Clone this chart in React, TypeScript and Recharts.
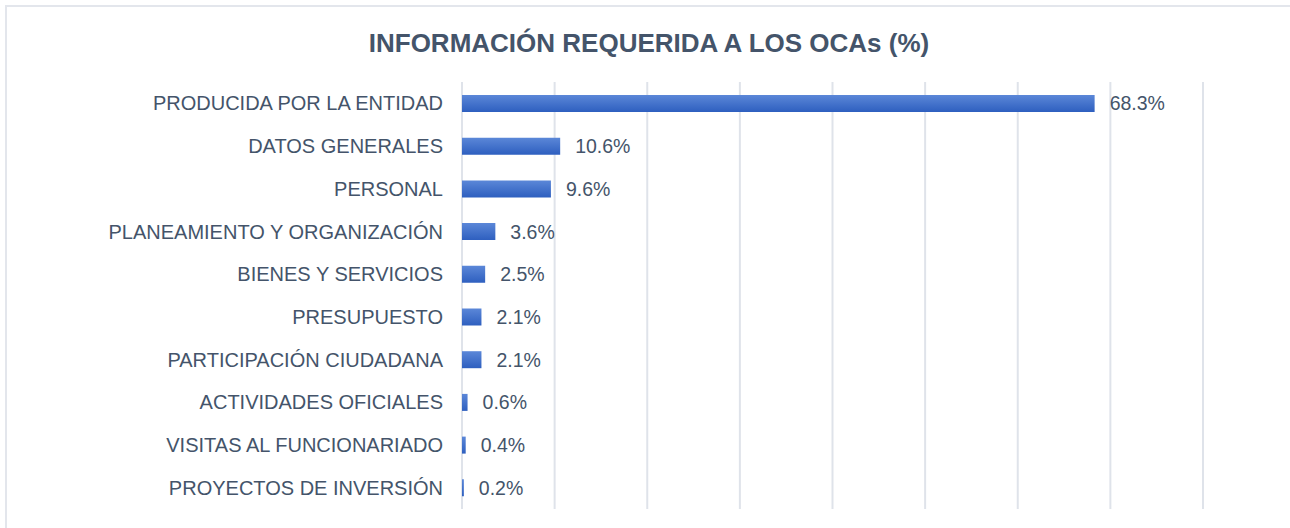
import { BarChart, Bar, XAxis, YAxis, CartesianGrid, LabelList } from 'recharts'

const categories = [
  'PRODUCIDA POR LA ENTIDAD',
  'DATOS GENERALES',
  'PERSONAL',
  'PLANEAMIENTO Y ORGANIZACIÓN',
  'BIENES Y SERVICIOS',
  'PRESUPUESTO',
  'PARTICIPACIÓN CIUDADANA',
  'ACTIVIDADES OFICIALES',
  'VISITAS AL FUNCIONARIADO',
  'PROYECTOS DE INVERSIÓN',
]

const values = [68.3, 10.6, 9.6, 3.6, 2.5, 2.1, 2.1, 0.6, 0.4, 0.2]

const xTicks = [0, 10, 20, 30, 40, 50, 60, 70, 80]

const title = 'INFORMACIÓN REQUERIDA A LOS OCAs (%)'

const font = '"Liberation Sans", Arial, sans-serif'

export default function App() {
  const data = categories.map((name, i) => ({ name, value: values[i] }))

  return (
    <div style={{ position: 'absolute', left: 0, top: 0, width: 1290, height: 528, background: '#fff', overflow: 'hidden', fontFamily: font }}>
      <div
        style={{
          position: 'absolute',
          left: 5,
          top: 5,
          width: 1300,
          height: 540,
          borderLeft: '2px solid #e3e6ec',
          borderTop: '2px solid #e3e6ec',
        }}
      />
      <div
        style={{
          position: 'absolute',
          left: 0,
          top: 28,
          width: 1298,
          textAlign: 'center',
          fontSize: 26,
          lineHeight: '30px',
          fontWeight: 'bold',
          color: '#44546a',
        }}
      >
        {title}
      </div>
      <div style={{ position: 'absolute', left: 0, top: 0 }}>
        <BarChart
          width={1290}
          height={528}
          data={data}
          layout="vertical"
          margin={{ top: 82, right: 87, bottom: 19, left: 0 }}
        >
          <defs>
            <linearGradient id="barFill" x1="0" y1="0" x2="0" y2="1">
              <stop offset="0%" stopColor="#5b87d8" />
              <stop offset="100%" stopColor="#2e5fbf" />
            </linearGradient>
          </defs>
          <CartesianGrid horizontal={false} stroke="#dfe3ea" strokeWidth={2} />
          <XAxis type="number" domain={[0, 80]} ticks={xTicks} hide />
          <YAxis
            type="category"
            dataKey="name"
            width={462}
            axisLine={false}
            tickLine={false}
            tickSize={0}
            tickMargin={19}
            interval={0}
            tick={{ fill: '#44546a', fontSize: 20, fontFamily: font }}
          />
          <Bar dataKey="value" fill="url(#barFill)" barSize={17} isAnimationActive={false}>
            <LabelList
              dataKey="value"
              position="right"
              offset={15}
              formatter={(v: any) => `${Number(v).toFixed(1)}%`}
              style={{ fill: '#44546a', fontSize: 19.5, fontFamily: font }}
            />
          </Bar>
        </BarChart>
      </div>
    </div>
  )
}
